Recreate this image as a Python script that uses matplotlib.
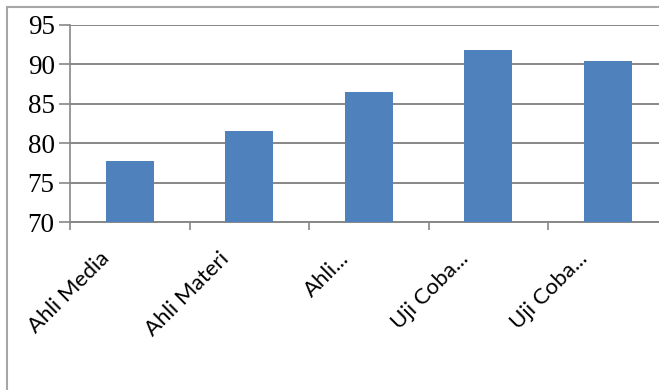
import matplotlib.pyplot as plt
from matplotlib.patches import Rectangle
from matplotlib.transforms import ScaledTranslation

# data
categories = ['Ahli Media', 'Ahli Materi', 'Ahli...', 'Uji Coba...', 'Uji Coba...']
values = [77.7, 81.5, 86.5, 91.8, 90.4]
y_ticks = [70, 75, 80, 85, 90, 95]

W, H = 659, 390
fig = plt.figure(figsize=(W / 100, H / 100), dpi=100)

# axes: left edge at x=70, bottom at y=222, top at y=25 (pixels)
ax = fig.add_axes([70 / W, (H - 222) / H, 1 - 70 / W, (222 - 25) / H])

x = list(range(len(categories)))
ax.bar(x, values, width=0.4, color='#4f81bd', zorder=3)

ax.set_ylim(70, 95)
ax.set_xlim(-0.5, -0.5 + (W - 70) / 119.5)
ax.set_yticks(y_ticks)
ax.set_yticklabels([str(v) for v in y_ticks], family='Liberation Serif', fontsize=19.5)

# category boundaries as minor ticks, labels at the centres
ax.set_xticks([i - 0.5 for i in range(len(categories))], minor=True)
ax.set_xticks(x)
ax.set_xticklabels(categories, rotation=45, ha='right', va='center',
                   rotation_mode='anchor', family='Lato', fontsize=16)
ax.tick_params(axis='x', which='major', length=0, pad=24)
ax.tick_params(axis='x', which='minor', length=6, width=1.2, color='#878787')
ax.tick_params(axis='y', length=8, width=1.2, color='#878787', pad=3)
shift = ScaledTranslation(-0.23, 0, fig.dpi_scale_trans)
for lab in ax.get_xticklabels():
    lab.set_transform(lab.get_transform() + shift)

ax.grid(axis='y', color='#878787', linewidth=1.4, zorder=0)
for s in ['top', 'right']:
    ax.spines[s].set_visible(False)
ax.spines['left'].set_color('#878787')
ax.spines['bottom'].set_color('#878787')
ax.spines['left'].set_linewidth(1.2)
ax.spines['bottom'].set_linewidth(1.4)

# chart area border, cut off at right and bottom like the picture
fig.add_artist(Rectangle((7 / W, -0.1), 1.0, 1.1 - 7 / H, transform=fig.transFigure,
                         fill=False, edgecolor='#a6a6a6', linewidth=1.5))

fig.savefig('out.png', dpi=100)
